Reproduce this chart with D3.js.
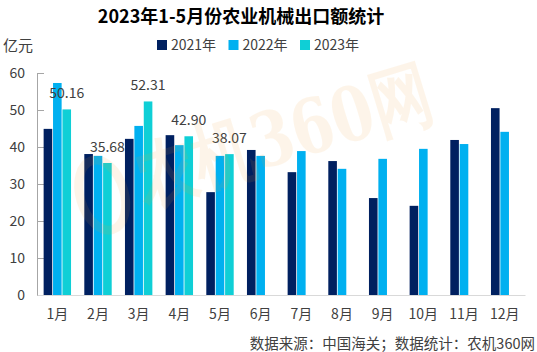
<!DOCTYPE html>
<html>
<head>
<meta charset="UTF-8">
<style>
body { margin: 0; background: #fff; }
text { font-family: "Noto Sans CJK SC", "Noto Sans", sans-serif; }
</style>
</head>
<body>
<svg width="537" height="352"></svg>
<script src="https://cdn.jsdelivr.net/npm/d3@7/dist/d3.min.js"></script>
<script>

var months = ["1月", "2月", "3月", "4月", "5月", "6月", "7月", "8月", "9月", "10月", "11月", "12月"];
var years = ["2021年", "2022年", "2023年"];
var v2021 = [44.9, 38.1, 42.2, 43.2, 27.8, 39.2, 33.2, 36.2, 26.2, 24.1, 41.9, 50.5];
var v2022 = [57.3, 37.6, 45.7, 40.5, 37.6, 37.6, 38.9, 34.1, 36.8, 39.5, 40.8, 44.1];
var v2023 = [50.16, 35.68, 52.31, 42.90, 38.07];
var yTicks = [0, 10, 20, 30, 40, 50, 60];

var colors = ["#002060", "#00b0f0", "#0fcfd6"];
var series = [v2021, v2022, v2023];

var svg = d3.select("svg"),
    margin = {top: 73, right: 12, bottom: 57, left: 37},
    width = 537 - margin.left - margin.right,
    height = 352 - margin.top - margin.bottom;

var x = d3.scaleBand().domain(months).range([0, width]);
var y = d3.scaleLinear().domain([0, 60]).range([height, 0]);

var barW = 8.6, gap = 0.8;
var groupW = 3 * barW + 2 * gap;

// title
svg.append("text")
    .attr("x", 241).attr("y", 23)
    .attr("text-anchor", "middle")
    .style("font-size", "18px").style("font-weight", "bold")
    .attr("fill", "#000")
    .text("2023年1-5月份农业机械出口额统计");

svg.append("text")
    .attr("x", 3).attr("y", 51)
    .style("font-size", "15px").attr("fill", "#404040")
    .text("亿元");

// legend
var legend = svg.selectAll(".legend")
    .data(years)
    .enter().append("g")
    .attr("transform", function(d, i) { return "translate(" + (157 + i * 71.5) + ",40)"; });
legend.append("rect")
    .attr("width", 10).attr("height", 10)
    .attr("fill", function(d, i) { return colors[i]; });
legend.append("text")
    .attr("x", 14).attr("y", 10)
    .style("font-size", "14px").attr("fill", "#404040")
    .text(function(d) { return d; });

var g = svg.append("g")
    .attr("transform", "translate(" + margin.left + "," + margin.top + ")");

// y axis
var yAxis = g.append("g").call(d3.axisRight(y).tickValues(yTicks).tickSize(7).tickFormat(""));
yAxis.select(".domain").attr("stroke", "#a6a6a6");
yAxis.selectAll(".tick line").attr("stroke", "#a6a6a6");
yAxis.selectAll(".tick").append("text")
    .attr("x", -12).attr("dy", "0.35em")
    .attr("text-anchor", "end")
    .style("font-size", "14px").attr("fill", "#404040")
    .text(function(d) { return d; });

// bars
series.forEach(function(vals, s) {
  g.selectAll(".bar" + s)
    .data(vals)
    .enter().append("rect")
      .attr("x", function(d, i) { return x(months[i]) + (x.bandwidth() - groupW) / 2 + s * (barW + gap); })
      .attr("y", function(d) { return y(d); })
      .attr("width", barW)
      .attr("height", function(d) { return height - y(d); })
      .attr("fill", colors[s]);
});

// labels on 2023
g.selectAll(".lbl")
  .data(v2023)
  .enter().append("text")
    .attr("x", function(d, i) { return x(months[i]) + (x.bandwidth() - groupW) / 2 + 2 * (barW + gap) + barW / 2; })
    .attr("y", function(d) { return y(d) - 11; })
    .attr("text-anchor", "middle")
    .style("font-size", "14px").attr("fill", "#404040")
    .text(function(d) { return d.toFixed(2); });

// x axis
var xAxis = g.append("g")
    .attr("transform", "translate(0," + height + ")")
    .call(d3.axisBottom(x).tickSize(0).tickPadding(14));
xAxis.select(".domain").attr("stroke", "#d9d9d9");
xAxis.selectAll("text").style("font-size", "14px").attr("fill", "#404040");

// watermark
var wm = svg.append("g")
    .attr("transform", "translate(145,205) rotate(-17)")
    .attr("opacity", 0.1);
wm.append("ellipse")
    .attr("cx", -38).attr("cy", -22).attr("rx", 22).attr("ry", 36)
    .attr("fill", "none").attr("stroke", "#f5a030").attr("stroke-width", 9);
wm.append("text")
    .attr("transform", "scale(1,1.25)")
    .style("font-size", "60px").style("font-weight", "bold")
    .style("font-family", "'DejaVu Serif', serif")
    .attr("fill", "#f5a030")
    .text("农机360网");

svg.append("text")
    .attr("x", 535).attr("y", 349)
    .attr("text-anchor", "end")
    .style("font-size", "14.5px").attr("fill", "#404040")
    .text("数据来源：中国海关；数据统计：农机360网");

</script>
</body>
</html>
